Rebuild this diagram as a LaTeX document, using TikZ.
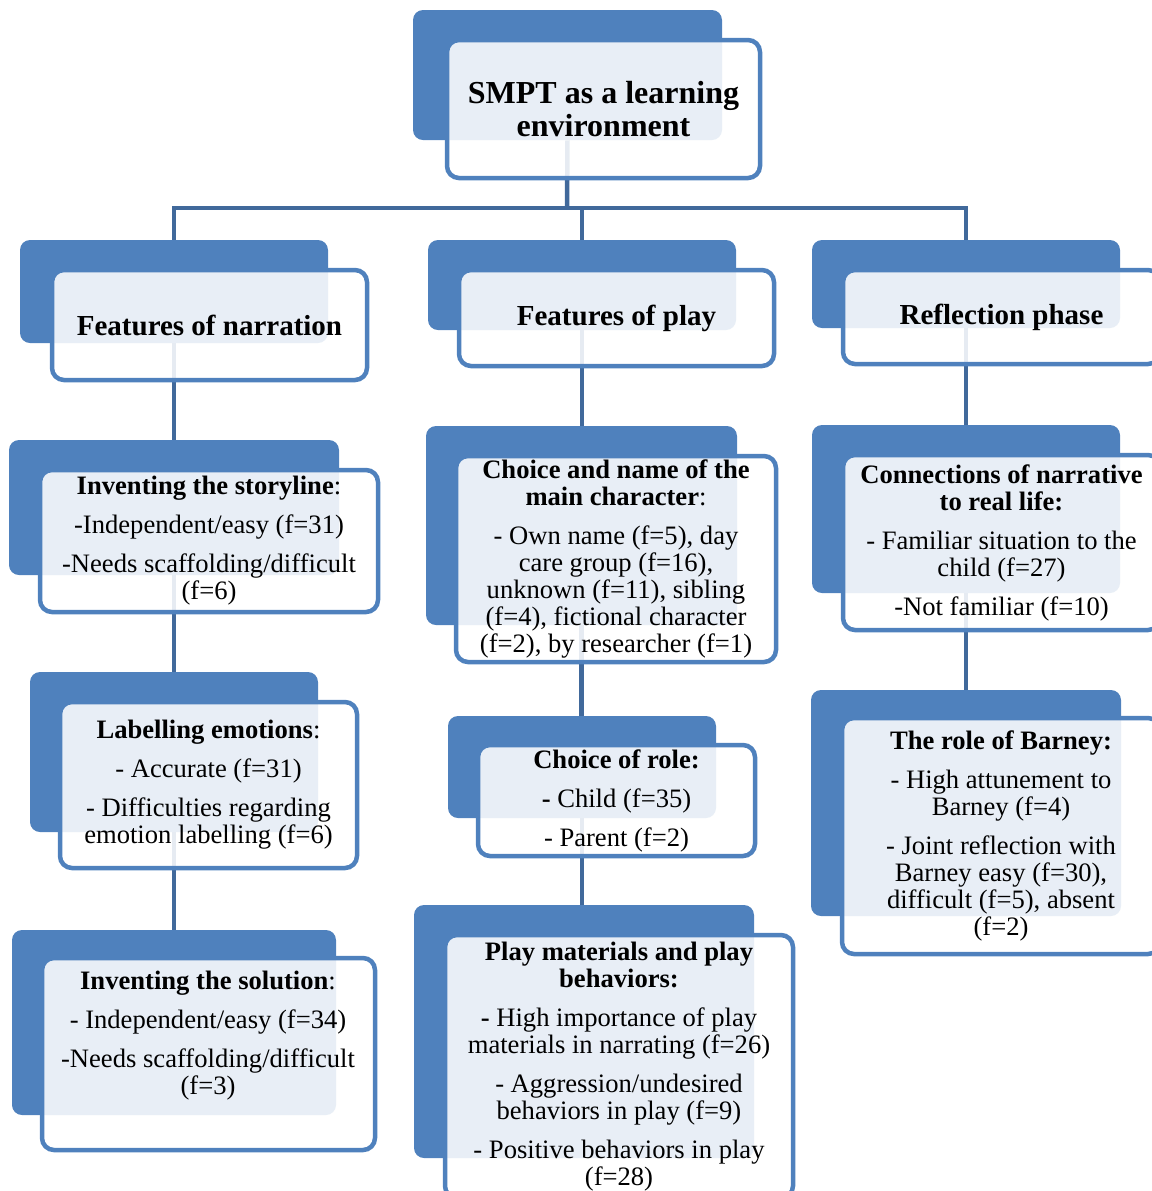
\documentclass[tikz,border=0pt]{standalone}
\usepackage{fontspec}
\setmainfont{Liberation Serif}
\usetikzlibrary{fit}
\definecolor{boxblue}{HTML}{4F81BD}
\definecolor{linkblue}{HTML}{41699B}
\tikzset{
  backbox/.style={fill=boxblue, rounded corners=5pt, inner sep=0pt},
  frontbox/.style={draw=boxblue, line width=2.25pt, fill=white, fill opacity=0.87,
    text opacity=1, rounded corners=6pt, inner sep=0pt, align=center,
    font=\fontsize{13.3}{13.5}\selectfont},
  boxat/.style 2 args={minimum width=#1*0.5pt, minimum height=#2*0.5pt},
  headfont/.style={font=\fontsize{14.5}{15}\selectfont\bfseries},
  link/.style={draw=linkblue, line width=2.25pt},
}

\begin{document}
\begin{tikzpicture}[x=0.5pt,y=-0.5pt]
      \useasboundingbox (0,0) rectangle (1152,1191);
      \clip (0,0) rectangle (1152,1191);

      % dark panels behind the boxes
      \foreach \n/\xa/\ya/\xb/\yb in {top/413/10/722/140, narr/20/240/328/343,
          play/428/240/736/330, refl/812/240/1120/328, story/9/440/339/575,
          hero/426/426/737/625, real/812/425/1120/593, label/30/672/318/832,
          role/448/716/716/818, barney/811/690/1121/916, solve/12/930/336/1115,
          mat/414/905/754/1158} {
        \node[backbox, fit={(\xa,\ya) (\xb,\yb)}] (b\n) {};
      }

      % connectors
      \coordinate (bus) at (567,208);
      \draw[link] (btop.south) -- (bus);
      \draw[link] (bnarr.north) |- (bus) -| (brefl.north);
      \draw[link] (bplay.north) -- (bplay.north |- bus);
      \foreach \a/\b in {narr/story, story/label, label/solve, play/hero,
          hero/role, role/mat, refl/real, real/barney} {
        \draw[link] (b\a.south) -- (b\a.south |- b\b.north);
      }

      % front boxes
      \node[frontbox, boxat={313}{138}, font=\fontsize{16}{16.5}\selectfont\bfseries]
        (top) at (603.5,109) {SMPT as a learning\\environment};
      \node[frontbox, headfont, boxat={315}{110}] (narr) at (209.5,325) {Features of narration};
      \node[frontbox, headfont, boxat={315}{96}] (play) at (616.5,318) {Features of play};
      \node[frontbox, headfont, boxat={317}{94}] (refl) at (1001.5,317) {Reflection phase};

      \node[frontbox, boxat={338}{142}] (story) at (209,541)
        {\textbf{Inventing the storyline}:\\[6pt]
         -Independent/easy (f=31)\\[6pt]
         -Needs scaffolding/difficult\\(f=6)};
      \node[frontbox, boxat={320}{206}] (hero) at (616,559)
        {\textbf{Choice and name of the}\\\textbf{main character}:\\[6pt]
         - Own name (f=5), day\\care group (f=16),\\unknown (f=11), sibling\\
         (f=4), fictional character\\(f=2), by researcher (f=1)};
      \node[frontbox, boxat={317}{175}] (real) at (1001.5,542.5)
        {\textbf{Connections of narrative}\\\textbf{to real life:}\\[6pt]
         - Familiar situation to the\\child (f=27)\\[6pt]
         -Not familiar (f=10)};

      \node[frontbox, boxat={297}{166}] (label) at (208.5,785)
        {\textbf{Labelling emotions}:\\[6pt]
         - Accurate (f=31)\\[6pt]
         - Difficulties regarding\\emotion labelling (f=6)};
      \node[frontbox, boxat={277}{111}] (role) at (616.5,800.5)
        {\textbf{Choice of role:}\\[6pt]
         \textbf{-} Child (f=35)\\[6pt]
         - Parent (f=2)};
      \node[frontbox, boxat={318}{236}] (barney) at (1001,836)
        {\textbf{The role of Barney:}\\[6pt]
         - High attunement to\\Barney (f=4)\\[6pt]
         - Joint reflection with\\Barney easy (f=30),\\difficult (f=5), absent\\(f=2)};

      \node[frontbox, boxat={333}{192}] (solve) at (208.5,1054) {};
      \node[align=center, font=\fontsize{13.3}{13.5}\selectfont] (solvetext) at (208,1036)
        {\textbf{Inventing the solution}:\\[6pt]
         - Independent/easy (f=34)\\[6pt]
         -Needs scaffolding/difficult\\(f=3)};
      \node[frontbox, boxat={348}{263}] (mat) at (619,1066.5)
        {\textbf{Play materials and play}\\\textbf{behaviors:}\\[6pt]
         \textbf{-} High importance of play\\materials in narrating (f=26)\\[6pt]
         - Aggression/undesired\\behaviors in play (f=9)\\[6pt]
         - Positive behaviors in play\\(f=28)};
\end{tikzpicture}
\end{document}
